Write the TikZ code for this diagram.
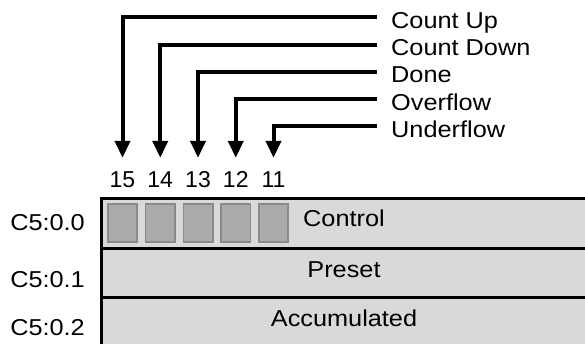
\documentclass[tikz,border=0pt]{standalone}
\usepackage{fontspec}
\setmainfont{Liberation Sans}[FakeStretch=1.1]
\newfontfamily\bitfont{Liberation Sans}
\usetikzlibrary{arrows.meta, positioning}
\definecolor{regfill}{HTML}{D9D9D9}
\definecolor{bitfill}{HTML}{ABABAB}
\definecolor{bitedge}{HTML}{8A8A8A}
\tikzstyle{word} = [draw=black, fill=regfill, line width=3pt]
\tikzstyle{bitbox} = [draw=bitedge, fill=bitfill, line width=1.6pt, minimum width=29.4pt,
                      minimum height=38.4pt, inner sep=0]
\tikzstyle{bitnum} = [anchor=base, font=\bitfont\fontsize{23}{26}\selectfont, text height=16pt,
                      inner xsep=0, inner ysep=14pt]
\tikzstyle{flag} = [anchor=west, inner xsep=14pt, inner ysep=0, text height=26pt, text depth=4pt]
\tikzstyle{flagline} = [line width=4pt, -{Triangle[width=15pt, length=17pt]}]
\tikzstyle{addr} = [anchor=base east, inner sep=0]
\tikzstyle{field} = [anchor=base, inner sep=0]

\begin{document}
\begin{tikzpicture}[x=1pt, y=-1pt, font=\fontsize{23}{26}\selectfont]
				\useasboundingbox (0, 0) rectangle (585, 344);
				\clip (0, 0) rectangle (585, 344);

				% the three words of the counter
				\draw[word] (101.5, 199) rectangle (640, 248);
				\draw[word] (101.5, 248) rectangle (640, 297);
				\draw[word] (101.5, 297) rectangle (640, 380);

				\node (addr0) [addr] at (85, 230) {C5:0.0};
				\node (addr1) [addr] at (85, 287) {C5:0.1};
				\node (addr2) [addr] at (85, 335) {C5:0.2};

				\node (Control) [field] at (344, 227) {Control};
				\node (Preset) [field] at (344, 277) {Preset};
				\node (Accum) [field] at (344, 326) {Accumulated};

				% status bits with their flags
				\foreach \n/\lbl/\txt [count=\i from 0] in {15/cu/Count Up, 14/cd/Count Down, 13/dn/Done,
						12/ov/Overflow, 11/un/Underflow} {
					\node (bit\n) [bitbox] at (122.5+37.75*\i, 223) {};
					\node (num\n) [bitnum] at (122.5+37.75*\i, 188) {\n};
					\node (\lbl) [flag] at (377, 17.3+27.3*\i) {\txt};
					\draw[flagline] (\lbl.west) -| (num\n.north);
				}
			\end{tikzpicture}
\end{document}
